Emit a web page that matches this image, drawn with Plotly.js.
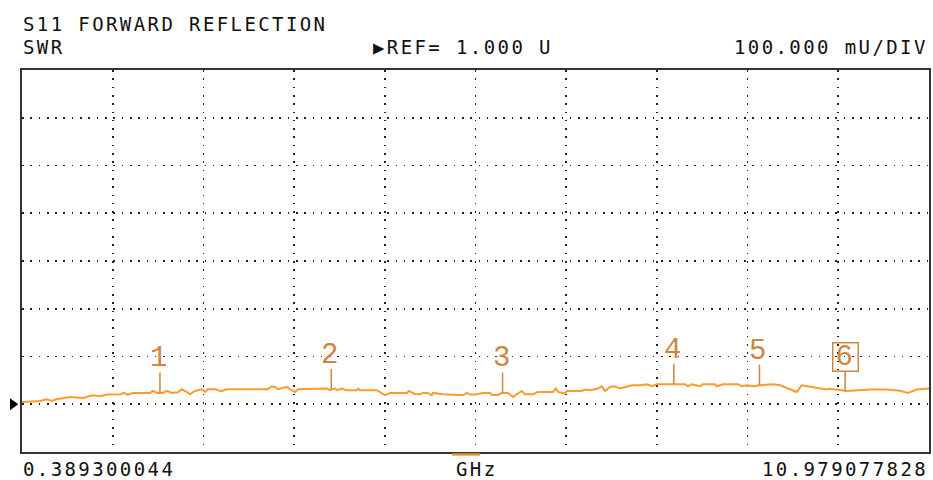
<!DOCTYPE html>
<html>
<head>
<meta charset="utf-8">
<script src="https://cdn.plot.ly/plotly-3.0.1.min.js"></script>
<style>
html,body{margin:0;padding:0;background:#fff;}
#chart{width:933px;height:480px;}
text.annotation-text{letter-spacing:2.4px;}
</style>
</head>
<body>
<div id="chart"></div>
<script>
// Frequency (GHz) and SWR
const freqGHz = [0.389,0.599,0.678,0.736,0.794,0.950,1.102,1.207,1.300,1.382,1.534,1.580,1.627,1.685,1.884,1.919,1.966,2.035,2.079,2.137,2.211,2.254,2.312,2.351,2.409,2.487,2.526,2.561,2.643,2.721,2.779,3.262,3.305,3.343,3.378,3.480,3.519,3.577,3.612,3.810,3.950,3.986,4.044,4.067,4.122,4.181,4.297,4.316,4.336,4.531,4.589,4.628,4.686,4.881,4.908,4.978,5.036,5.071,5.130,5.173,5.188,5.305,5.538,5.582,5.620,5.679,5.772,5.854,5.874,5.947,5.990,6.064,6.122,6.166,6.224,6.263,6.356,6.414,6.589,6.621,6.648,6.729,6.749,6.924,6.963,7.021,7.115,7.158,7.196,7.255,7.313,7.372,7.430,7.508,7.605,7.684,7.742,7.800,8.131,8.166,8.209,8.306,8.341,8.481,8.501,8.574,8.749,8.793,8.851,8.925,9.006,9.158,9.240,9.435,9.493,9.590,9.785,9.824,9.940,10.018,10.290,10.485,10.641,10.734,10.836,10.979];
const swr = [1.0048,1.0069,1.0105,1.0069,1.0105,1.0153,1.0132,1.0189,1.0168,1.0203,1.0210,1.0237,1.0195,1.0237,1.0237,1.0279,1.0237,1.0237,1.0279,1.0237,1.0252,1.0314,1.0258,1.0210,1.0279,1.0314,1.0258,1.0314,1.0314,1.0273,1.0314,1.0314,1.0377,1.0363,1.0314,1.0363,1.0314,1.0258,1.0314,1.0314,1.0329,1.0294,1.0329,1.0294,1.0329,1.0294,1.0294,1.0329,1.0294,1.0294,1.0237,1.0189,1.0237,1.0237,1.0279,1.0210,1.0210,1.0237,1.0237,1.0189,1.0237,1.0210,1.0189,1.0237,1.0203,1.0203,1.0237,1.0237,1.0195,1.0195,1.0237,1.0237,1.0153,1.0210,1.0279,1.0210,1.0210,1.0258,1.0258,1.0329,1.0258,1.0224,1.0279,1.0279,1.0308,1.0294,1.0329,1.0377,1.0279,1.0363,1.0377,1.0329,1.0363,1.0398,1.0398,1.0419,1.0377,1.0419,1.0419,1.0377,1.0419,1.0377,1.0419,1.0419,1.0377,1.0419,1.0419,1.0377,1.0398,1.0377,1.0398,1.0419,1.0398,1.0258,1.0398,1.0363,1.0308,1.0325,1.0294,1.0279,1.0308,1.0308,1.0283,1.0237,1.0308,1.0329];

const markerFreq = [2, 4, 6, 8, 9, 10];
const markerSWR = [1.0237, 1.0310, 1.0237, 1.0419, 1.0398, 1.0279];
const markerLabels = ['1','2','3','4','5','6'];
const activeMarker = 6;

const startGHz = 0.389300044;
const stopGHz = 10.979077828;
const refValue = 1.0;
const perDiv = 0.1;
const startLabel = '0.389300044';
const stopLabel = '10.979077828';
const titleText = 'S11 FORWARD REFLECTION';
const formatText = 'SWR';
const refText = '\u25B6REF= 1.000 U';
const scaleText = '100.000 mU/DIV';
const unitText = 'GHz';

const traceColor = '#ff9a2e';
const markerColor = '#cd853f';
const monoFont = 'DejaVu Sans Mono';

const trace = {
  x: freqGHz, y: swr, type: 'scatter', mode: 'lines',
  line: {color: traceColor, width: 2}, hoverinfo: 'skip', showlegend: false
};

const annotations = [];
markerFreq.forEach((f, i) => {
  const isActive = (i + 1) === activeMarker;
  annotations.push({
    x: f, y: markerSWR[i], xref: 'x', yref: 'y',
    text: markerLabels[i], showarrow: true, arrowhead: 0, arrowwidth: 1.5,
    arrowcolor: markerColor, ax: 0, ay: -34, standoff: 0,
    width: 22, height: 25, borderpad: 1,
    bordercolor: isActive ? markerColor : 'rgba(0,0,0,0)', borderwidth: isActive ? 1.5 : 0,
    font: {family: 'Liberation Mono', size: 29, color: markerColor}
  });
});

const hdrFont = {family: monoFont, size: 19, color: '#111'};
annotations.push(
  {xref:'paper', yref:'paper', x:0, y:1.121, xanchor:'left', yanchor:'middle', text:titleText, showarrow:false, font:hdrFont, borderpad:0},
  {xref:'paper', yref:'paper', x:0, y:1.060, xanchor:'left', yanchor:'middle', text:formatText, showarrow:false, font:hdrFont, borderpad:0},
  {xref:'paper', yref:'paper', x:0.386, y:1.060, xanchor:'left', yanchor:'middle', text:refText, showarrow:false, font:hdrFont, borderpad:0},
  {xref:'paper', yref:'paper', x:1.0, y:1.060, xanchor:'right', yanchor:'middle', text:scaleText, showarrow:false, font:hdrFont, borderpad:0},
  {xref:'paper', yref:'paper', x:0, y:-0.045, xanchor:'left', yanchor:'middle', text:startLabel, showarrow:false, font:hdrFont, borderpad:0},
  {xref:'paper', yref:'paper', x:0.5013, y:-0.045, xanchor:'center', yanchor:'middle', text:unitText, showarrow:false, font:hdrFont, borderpad:0},
  {xref:'paper', yref:'paper', x:1.0, y:-0.045, xanchor:'right', yanchor:'middle', text:stopLabel, showarrow:false, font:hdrFont, borderpad:0}
);

const span = stopGHz - startGHz;
const shapes = [
  // reference-level pointer at left of grid
  {type:'path', xref:'paper', yref:'y',
   path:`M -0.0132 ${refValue+0.0126} L -0.0041 ${refValue} L -0.0132 ${refValue-0.0126} Z`,
   fillcolor:'#000', line:{width:0}},
  // centre-frequency indicator on bottom edge
  {type:'rect', xref:'x', yref:'paper', x0: startGHz + span*0.4744, x1: startGHz + span*0.5052,
   y0:-0.0095, y1:-0.003, fillcolor:'#e0902e', line:{width:0}}
];

const layout = {
  width: 933, height: 480,
  margin: {l: 22, r: 4, t: 70, b: 28},
  paper_bgcolor: '#fff', plot_bgcolor: '#fff',
  showlegend: false,
  xaxis: {
    range: [startGHz, stopGHz], tick0: startGHz, dtick: span/10, tickmode: 'linear',
    showticklabels: false, ticks: '', zeroline: false,
    showgrid: true, gridcolor: '#222', gridwidth: 1.6, griddash: '1.6px,6.7px',
    showline: true, mirror: true, linecolor: '#333', linewidth: 2
  },
  yaxis: {
    range: [refValue - perDiv, refValue + 7*perDiv], tick0: refValue - perDiv, dtick: perDiv, tickmode: 'linear',
    showticklabels: false, ticks: '', zeroline: false,
    showgrid: true, gridcolor: '#222', gridwidth: 1.6, griddash: '1.6px,6.7px',
    showline: true, mirror: true, linecolor: '#333', linewidth: 2
  },
  annotations: annotations,
  shapes: shapes
};

Plotly.newPlot('chart', [trace], layout, {displayModeBar: false, staticPlot: true});
</script>
</body>
</html>
